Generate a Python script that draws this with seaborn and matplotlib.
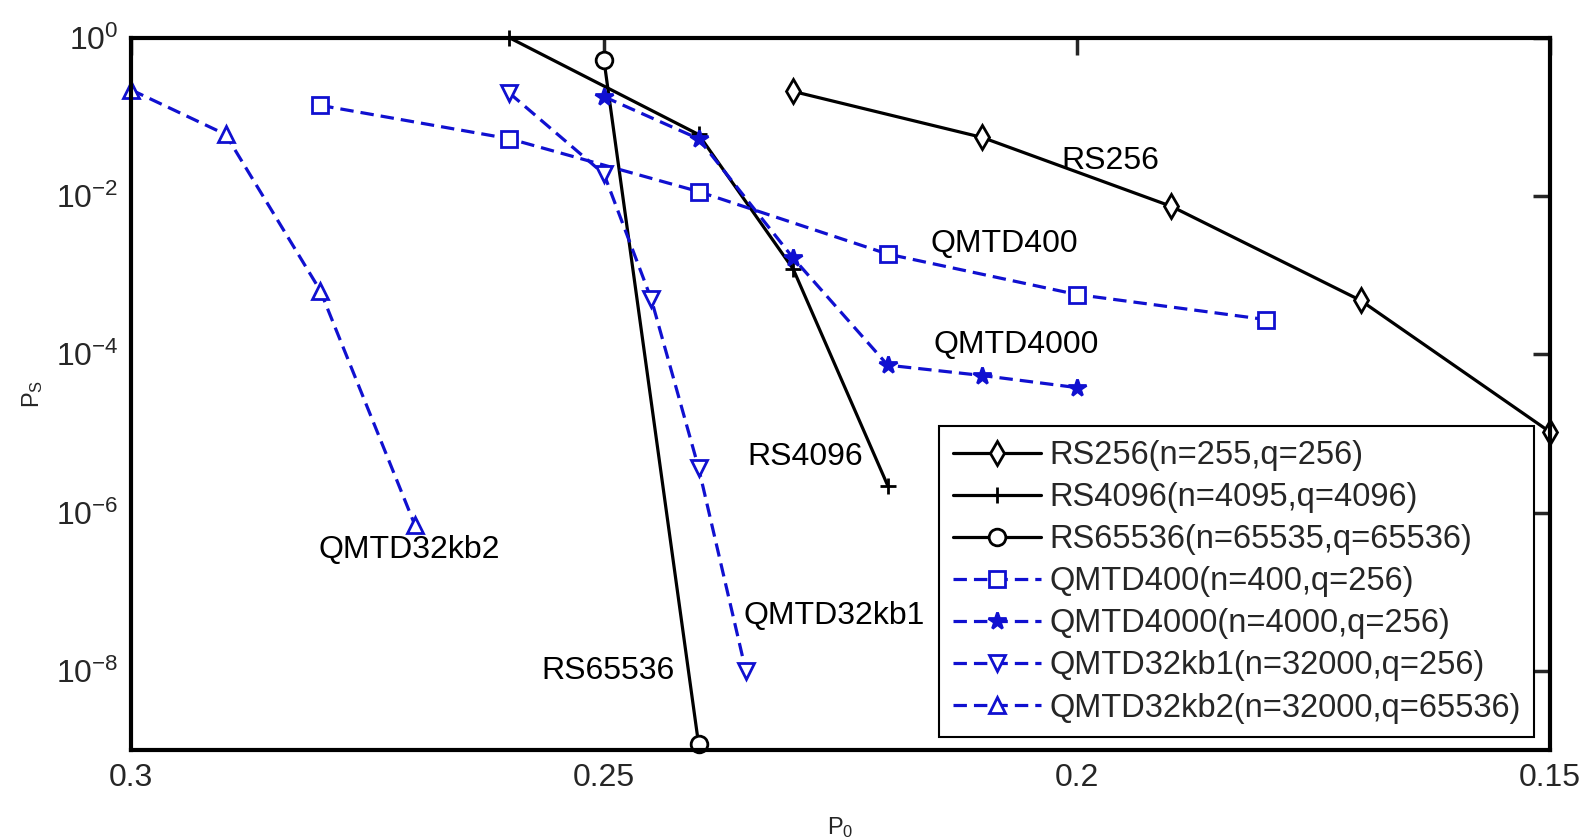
import numpy as np
import pandas as pd
import matplotlib
matplotlib.use("Agg")
import matplotlib.pyplot as plt
import seaborn as sns

# ---- data ----
rs256_p0 = [0.23, 0.21, 0.19, 0.17, 0.15]
rs256_ps = [0.21, 0.055, 7.4e-3, 4.8e-4, 1.05e-5]

rs4096_p0 = [0.26, 0.24, 0.23, 0.22]
rs4096_ps = [1.0, 0.06, 1.2e-3, 2.2e-6]

rs65536_p0 = [0.25, 0.24]
rs65536_ps = [0.52, 1.2e-9]

qmtd400_p0 = [0.28, 0.26, 0.24, 0.22, 0.20, 0.18]
qmtd400_ps = [0.14, 0.053, 0.0114, 1.85e-3, 5.7e-4, 2.75e-4]

qmtd4000_p0 = [0.25, 0.24, 0.23, 0.22, 0.21, 0.20]
qmtd4000_ps = [0.18, 0.053, 1.65e-3, 7.3e-5, 5.4e-5, 3.8e-5]

qmtd32kb1_p0 = [0.26, 0.25, 0.245, 0.24, 0.235]
qmtd32kb1_ps = [0.2, 0.019, 5.0e-4, 3.7e-6, 1.0e-8]

qmtd32kb2_p0 = [0.30, 0.29, 0.28, 0.27]
qmtd32kb2_ps = [0.22, 0.06, 6.4e-4, 7.0e-7]

labels = ["RS256(n=255,q=256)", "RS4096(n=4095,q=4096)", "RS65536(n=65535,q=65536)",
          "QMTD400(n=400,q=256)", "QMTD4000(n=4000,q=256)",
          "QMTD32kb1(n=32000,q=256)", "QMTD32kb2(n=32000,q=65536)"]

x_ticks = [0.3, 0.25, 0.2, 0.15]
x_ticklabels = ["0.3", "0.25", "0.2", "0.15"]

# ---- style ----
sns.set_style("white")
plt.rcParams['font.family'] = ['Liberation Sans', 'DejaVu Sans']
plt.rcParams['mathtext.fontset'] = 'custom'
plt.rcParams['mathtext.rm'] = 'Liberation Sans'
plt.rcParams['mathtext.it'] = 'Liberation Sans:italic'
plt.rcParams['axes.unicode_minus'] = False

BLUE = '#1010d0'
DASH = (0, (4.2, 2.2))

series = [
    (rs256_p0, rs256_ps, 'black', '-', 'd', 'white'),
    (rs4096_p0, rs4096_ps, 'black', '-', '+', 'white'),
    (rs65536_p0, rs65536_ps, 'black', '-', 'o', 'white'),
    (qmtd400_p0, qmtd400_ps, BLUE, DASH, 's', 'white'),
    (qmtd4000_p0, qmtd4000_ps, BLUE, DASH, '*', BLUE),
    (qmtd32kb1_p0, qmtd32kb1_ps, BLUE, DASH, 'v', 'white'),
    (qmtd32kb2_p0, qmtd32kb2_ps, BLUE, DASH, '^', 'white'),
]

fig = plt.figure(figsize=(15.83, 8.39), dpi=100)
ax = fig.add_axes([0.0828, 0.106, 0.8962, 0.849])

for (xs, ys, col, ls, mk, mfc), lab in zip(series, labels):
    df = pd.DataFrame({'P0': xs, 'Ps': ys})
    sns.lineplot(data=df, x='P0', y='Ps', ax=ax, color=col, linestyle=ls,
                 linewidth=2.3, marker=mk, markersize=12 if mk != '*' else 13,
                 markerfacecolor=mfc, markeredgecolor=col, markeredgewidth=2,
                 label=lab, sort=False, clip_on=False)

ax.set_yscale('log')
ax.set_ylim(1e-9, 1)
ax.set_xlim(0.3, 0.15)
ax.set_xticks(x_ticks)
ax.set_xticklabels(x_ticklabels)
ax.set_yticks([1e-8, 1e-6, 1e-4, 1e-2, 1])
ax.minorticks_off()
ax.tick_params(axis='both', which='major', direction='in', length=12, width=2.5,
               labelsize=23, top=True, right=True, pad=9)
for sp in ax.spines.values():
    sp.set_linewidth(3)
    sp.set_color('black')

ax.set_xlabel(r'$\mathrm{P_0}$', fontsize=17, labelpad=16)
ax.set_ylabel(r'$\mathrm{P_S}$', fontsize=17, labelpad=8)

# ---- curve annotations ----
tk = dict(fontsize=23, color='black')
ax.text(0.1965, 0.028, 'RS256', ha='center', va='center', **tk)
ax.text(0.2155, 2.5e-3, 'QMTD400', ha='left', va='center', **tk)
ax.text(0.2152, 1.3e-4, 'QMTD4000', ha='left', va='center', **tk)
ax.text(0.2226, 5e-6, 'RS4096', ha='right', va='center', **tk)
ax.text(0.2706, 3.4e-7, 'QMTD32kb2', ha='center', va='center', **tk)
ax.text(0.2352, 5e-8, 'QMTD32kb1', ha='left', va='center', **tk)
ax.text(0.2425, 1e-8, 'RS65536', ha='right', va='center', **tk)

leg = ax.legend(loc='lower right', bbox_to_anchor=(0.989, 0.018), fontsize=23.5,
                frameon=True, fancybox=False, edgecolor='black', framealpha=1,
                handlelength=2.7, handletextpad=0.25, labelspacing=0.34,
                borderpad=0.42, borderaxespad=0)
leg.get_frame().set_linewidth(1.5)

plt.savefig('out.png', dpi=100)
